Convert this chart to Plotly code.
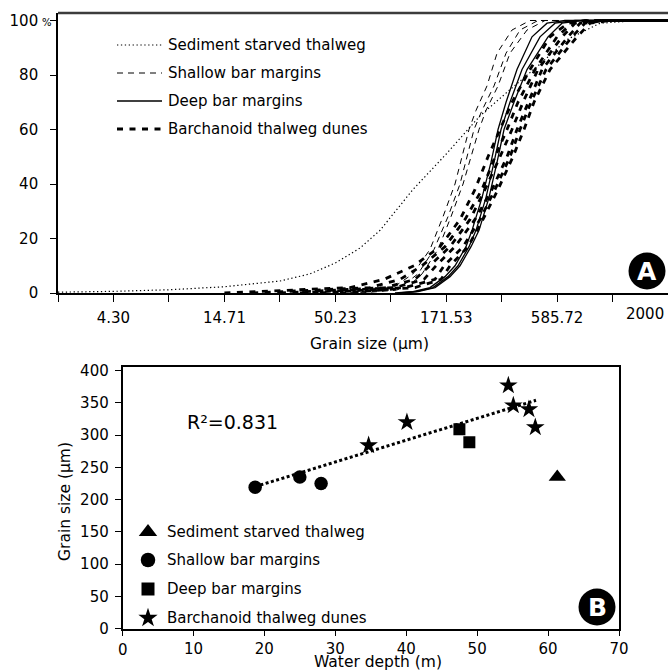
import math
import plotly.graph_objects as go

# ---------------- DATA ----------------
# Panel A: cumulative grain-size curves (grain size in µm at given cumulative %)
starved_size = [2.327, 4.30, 8.05, 14.71, 27.2, 37.9, 50.23, 66.0, 82.4, 118.7, 171.5,
                249.3, 339.9, 484.6, 653.5, 942.0, 1467, 2000]
starved_pct = [0.3, 0.6, 1.2, 2.3, 4.4, 7, 11, 16.5, 23, 38, 51, 65, 74, 84, 93, 99, 100, 100]

shallow_pct = [0, 1, 2, 7, 16, 28, 40, 50, 60, 67, 76, 88, 96.5, 100, 100]
shallow_1 = [52.9, 82.4, 95.1, 118.7, 143.3, 165.5, 189.0, 204.3, 220.7, 238.5, 269.4, 301.1, 355.3, 433.8, 2000]
shallow_2 = [59.1, 90.0, 102.8, 125.4, 149.8, 174.9, 199.8, 215.9, 233.3, 254.9, 291.2, 332.6, 388.3, 474.0, 2000]
shallow_3 = [66.0, 97.2, 111.1, 131.2, 156.6, 180.8, 206.6, 225.7, 246.6, 266.4, 304.4, 347.5, 419.6, 512.2, 2000]

deep_pct = [0, 0.5, 2, 6, 10, 17, 23, 35, 48, 60, 70, 82, 94, 99, 100, 100]
deep_1 = [97.2, 118.7, 143.3, 169.2, 189.0, 213.5, 228.2, 254.9, 281.7, 304.4, 332.6, 375.5, 443.5, 523.7, 639.2, 2000]
deep_2 = [100.5, 122.7, 148.1, 174.9, 195.4, 220.7, 238.5, 266.4, 291.2, 314.6, 347.5, 397.0, 484.6, 572.2, 714.0, 2000]
deep_3 = [103.9, 125.4, 151.5, 178.8, 199.8, 225.7, 246.6, 275.4, 301.1, 325.3, 363.2, 419.6, 529.5, 618.3, 771.7, 2000]

barch_pct = [0, 1, 2, 5, 10, 17, 27, 38, 50, 60, 70, 82, 94, 99, 100, 100]
barch_1 = [14.7, 30.4, 59.1, 86.1, 120.0, 160.1, 199.8, 235.9, 272.4, 311.2, 355.3, 433.8, 541.4, 660.8, 797.7, 2000]
barch_2 = [20.0, 37.9, 73.7, 102.8, 131.2, 169.2, 211.2, 254.9, 294.5, 336.3, 379.7, 458.5, 585.0, 690.7, 843.2, 2000]
barch_3 = [27.2, 47.3, 87.1, 121.3, 143.3, 178.8, 223.2, 263.5, 311.2, 355.3, 401.4, 474.0, 618.3, 714.0, 891.2, 2000]
barch_4 = [33.9, 59.1, 97.2, 134.1, 153.1, 189.0, 235.9, 284.8, 336.3, 375.5, 424.3, 495.5, 660.8, 754.8, 942.0, 2000]
barch_5 = [42.4, 66.0, 108.6, 151.5, 167.4, 206.6, 249.3, 294.5, 347.5, 388.3, 438.6, 517.9, 690.7, 797.7, 995.6, 2000]
barch_6 = [52.9, 82.4, 121.3, 161.9, 178.8, 218.3, 257.7, 304.4, 359.2, 405.9, 453.4, 541.4, 730.1, 843.2, 1052, 2000]

grain_tick_labels = ["4.30", "14.71", "50.23", "171.53", "585.72", "2000"]
grain_tick_vals = [4.30, 14.71, 50.23, 171.53, 585.72, 2000]
pct_ticks = [0, 20, 40, 60, 80, 100]

# Panel B: water depth (m) vs grain size (µm)
starved_depth = [61.3]
starved_grain = [235]
shallow_depth = [18.7, 25.0, 28.0]
shallow_grain = [219, 235, 225]
deep_depth = [47.5, 48.9]
deep_grain = [309, 289]
barch_depth = [34.7, 40.1, 54.4, 55.1, 57.3, 58.2]
barch_grain = [284, 320, 377, 346, 340, 312]
trend_depth = [18.7, 58.3]
trend_grain = [220, 354]
r2_text = "R²=0.831"

legend_names = ["Sediment starved thalweg", "Shallow bar margins",
                "Deep bar margins", "Barchanoid thalweg dunes"]

# ---------------- FIGURE ----------------
W, H = 668, 671
FONT = "DejaVu Sans"


def px(x):
    return x / W


def py(y):
    return 1 - y / H


STY_DOT = dict(color="black", width=1.2, dash="1.3px,2.6px")
STY_THIN = dict(color="black", width=1.0, dash="6px,5px")
STY_SOLID = dict(color="black", width=1.3)
STY_THICK = dict(color="black", width=2.8, dash="6px,6.5px")

fig = go.Figure()


def curve(xs, ys, style):
    fig.add_trace(go.Scatter(x=xs, y=ys, mode="lines", line=style, xaxis="x", yaxis="y",
                             showlegend=False, hoverinfo="skip"))


curve(starved_size, starved_pct, STY_DOT)
for s in (barch_1, barch_2, barch_3, barch_4, barch_5, barch_6):
    curve(s, barch_pct, STY_THICK)
for s in (shallow_1, shallow_2, shallow_3):
    curve(s, shallow_pct, STY_THIN)
for s in (deep_1, deep_2, deep_3):
    curve(s, deep_pct, STY_SOLID)

# Panel B
fig.add_trace(go.Scatter(x=trend_depth, y=trend_grain, mode="lines",
                         line=dict(color="black", width=3, dash="3px,2.5px"),
                         xaxis="x2", yaxis="y2", showlegend=False, hoverinfo="skip"))
for xs, ys, sym, size in [(starved_depth, starved_grain, "triangle-up", 15),
                          (shallow_depth, shallow_grain, "circle", 13.5),
                          (deep_depth, deep_grain, "square", 12),
                          (barch_depth, barch_grain, "star", 14)]:
    fig.add_trace(go.Scatter(x=xs, y=ys, mode="markers",
                             marker=dict(symbol=sym, size=size, color="black", line=dict(width=0)),
                             xaxis="x2", yaxis="y2", showlegend=False, hoverinfo="skip"))

# Legend keys drawn on a hidden pixel-coordinate overlay axis
leg_y_top = [45, 73, 101, 129]
for yy, sty in zip(leg_y_top, [STY_DOT, STY_THIN, STY_SOLID, STY_THICK]):
    fig.add_trace(go.Scatter(x=[117, 162], y=[yy, yy], mode="lines", line=sty,
                             xaxis="x3", yaxis="y3", showlegend=False, hoverinfo="skip"))
leg_y_bot = [532, 560, 589, 618]
for yy, sym, size in zip(leg_y_bot, ["triangle-up", "circle", "square", "star"], [16, 14.5, 13, 14.5]):
    fig.add_trace(go.Scatter(x=[148], y=[yy], mode="markers",
                             marker=dict(symbol=sym, size=size, color="black", line=dict(width=0)),
                             xaxis="x3", yaxis="y3", showlegend=False, hoverinfo="skip"))

annotations = []
for yy, name in zip(leg_y_top, legend_names):
    annotations.append(dict(x=px(166), y=py(yy), xref="paper", yref="paper", text=name,
                            showarrow=False, xanchor="left", yanchor="middle",
                            font=dict(family=FONT, size=15, color="black")))
for yy, name in zip(leg_y_bot, legend_names):
    annotations.append(dict(x=px(165), y=py(yy), xref="paper", yref="paper", text=name,
                            showarrow=False, xanchor="left", yanchor="middle",
                            font=dict(family=FONT, size=15, color="black")))

# axis titles
annotations.append(dict(x=px(369), y=py(344), xref="paper", yref="paper", text="Grain size (µm)",
                        showarrow=False, xanchor="center", yanchor="middle",
                        font=dict(family=FONT, size=15.5, color="black")))
annotations.append(dict(x=px(378), y=py(662), xref="paper", yref="paper", text="Water depth (m)",
                        showarrow=False, xanchor="center", yanchor="middle",
                        font=dict(family=FONT, size=15.5, color="black")))
annotations.append(dict(x=px(65), y=py(502), xref="paper", yref="paper", text="Grain size (µm)",
                        showarrow=False, xanchor="center", yanchor="middle", textangle=-90,
                        font=dict(family=FONT, size=15.5, color="black")))
# extra tick texts
annotations.append(dict(x=math.log10(2000), y=py(314), xref="x", yref="paper", text=grain_tick_labels[-1],
                        showarrow=False, xanchor="right", yanchor="middle", xshift=-2,
                        font=dict(family=FONT, size=15, color="black")))
annotations.append(dict(x=px(47), y=py(22), xref="paper", yref="paper", text="%",
                        showarrow=False, xanchor="center", yanchor="middle",
                        font=dict(family=FONT, size=10, color="black")))
annotations.append(dict(x=0, y=py(650), xref="x2", yref="paper", text="0",
                        showarrow=False, xanchor="center", yanchor="middle", xshift=1,
                        font=dict(family=FONT, size=15, color="black")))
# R²
annotations.append(dict(x=px(185), y=py(422), xref="paper", yref="paper", text=r2_text,
                        showarrow=False, xanchor="left", yanchor="middle",
                        font=dict(family=FONT, size=19, color="black")))
# badges
for cx, cy, letter in [(647, 271, "A"), (597, 607, "B")]:
    annotations.append(dict(x=px(cx), y=py(cy), xref="paper", yref="paper", text="<b>%s</b>" % letter,
                            showarrow=False, xanchor="center", yanchor="middle",
                            font=dict(family=FONT, size=25, color="white")))

shapes = [
    dict(type="line", xref="paper", yref="paper", x0=px(58), x1=1, y0=py(13), y1=py(13),
         line=dict(color="#3c3c3c", width=2.6)),
]
for cx, cy in [(647, 271), (597, 607)]:
    r = 18.5
    shapes.append(dict(type="circle", xref="paper", yref="paper",
                       x0=px(cx - r), x1=px(cx + r), y0=py(cy + r), y1=py(cy - r),
                       fillcolor="black", line=dict(width=0), layer="above"))

minor_vals = [2.327, 7.95, 27.18, 92.82, 317.0, 1082.6]
xa_vals = sorted(grain_tick_vals + minor_vals)
xa_text = [grain_tick_labels[grain_tick_vals.index(v)] if v in grain_tick_vals and v != 2000 else ""
           for v in xa_vals]

axis_common = dict(showline=True, linecolor="black", showgrid=False, zeroline=False,
                   ticks="outside", tickcolor="black", automargin=False,
                   tickfont=dict(family=FONT, size=15, color="black"))

fig.update_layout(
    template="none",
    width=W, height=H, autosize=False,
    margin=dict(l=0, r=0, t=0, b=0, pad=0),
    paper_bgcolor="white", plot_bgcolor="rgba(0,0,0,0)",
    font=dict(family=FONT, color="black"),
    showlegend=False,
    xaxis=dict(domain=[px(58), 1], type="log", range=[math.log10(2.327), math.log10(2000)],
               tickmode="array", tickvals=xa_vals, ticktext=xa_text, ticklen=7, tickwidth=1.2,
               linewidth=1.6, anchor="y", ticklabelstandoff=3, **axis_common),
    yaxis=dict(domain=[py(293), py(13)], range=[0, 102.75], tickmode="array", tickvals=pct_ticks,
               ticktext=[str(v) for v in pct_ticks], ticklen=6, tickwidth=1.2, linewidth=1.6,
               anchor="x", ticklabelstandoff=9, **axis_common),
    xaxis2=dict(domain=[px(122.5), px(619)], range=[0, 70], tickmode="array",
                tickvals=[0, 10, 20, 30, 40, 50, 60, 70],
                ticktext=["", "10", "20", "30", "40", "50", "60", "70"],
                ticklen=6, tickwidth=1.2, linewidth=1.5, mirror=True, anchor="y2",
                ticklabelstandoff=0, **axis_common),
    yaxis2=dict(domain=[py(628.5), py(367)], range=[0, 405.6], tickmode="array",
                tickvals=list(range(0, 401, 50)), ticklen=6, tickwidth=1.2, linewidth=1.5,
                mirror=True, anchor="x2", ticklabelstandoff=3, **axis_common),
    xaxis3=dict(domain=[0, 1], range=[0, W], visible=False, anchor="y3", fixedrange=True,
                automargin=False),
    yaxis3=dict(domain=[0, 1], range=[H, 0], visible=False, anchor="x3", fixedrange=True,
                automargin=False),
    annotations=annotations,
    shapes=shapes,
)

fig.write_html("out.html", config={"displayModeBar": False},
               post_script="document.body.style.margin='0';document.body.style.padding='0';"
                           "document.documentElement.style.overflow='hidden';")
